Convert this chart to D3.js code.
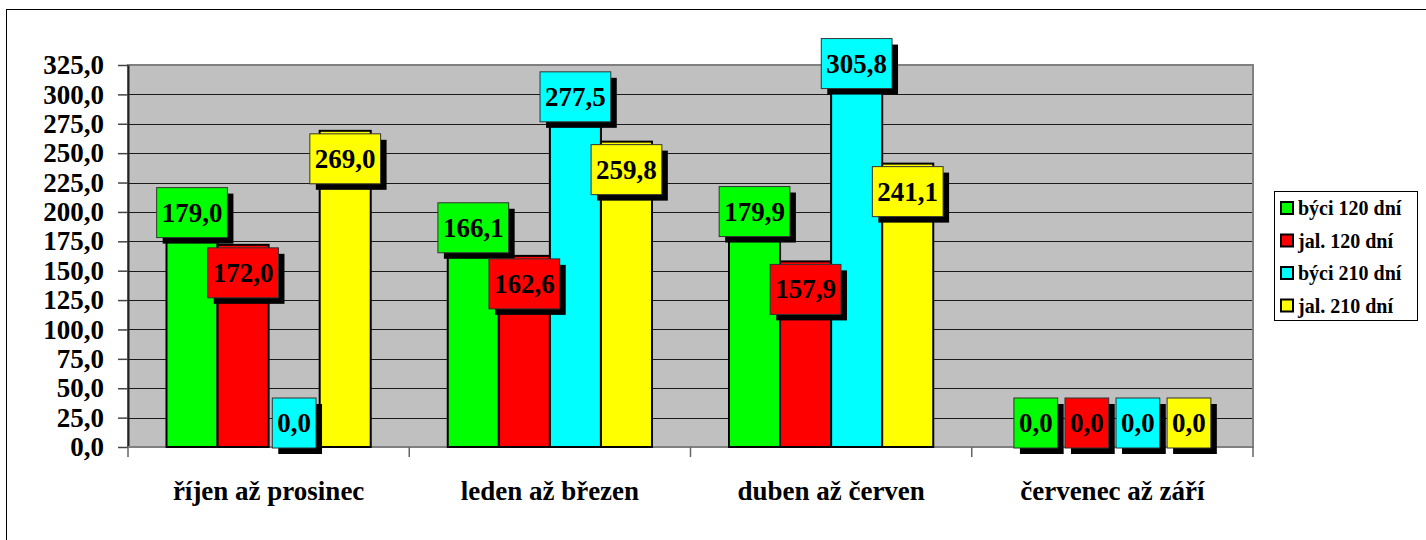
<!DOCTYPE html>
<html>
<head>
<meta charset="utf-8">
<script src="https://cdn.jsdelivr.net/npm/d3@7"></script>
<style>
  body { margin: 0; background: #fff; }
</style>
</head>
<body>
<svg id="chart" width="1426" height="540"></svg>
<script>
const categories = ["říjen až prosinec", "leden až březen", "duben až červen", "červenec až září"];
const seriesNames = ["býci 120 dní", "jal. 120 dní", "býci 210 dní", "jal. 210 dní"];
const seriesColors = ["#00ff00", "#ff0000", "#00ffff", "#ffff00"];
const bull120 = [179.0, 166.1, 179.9, 0.0];
const heifer120 = [172.0, 162.6, 157.9, 0.0];
const bull210 = [0.0, 277.5, 305.8, 0.0];
const heifer210 = [269.0, 259.8, 241.1, 0.0];
const yTicks = [0, 25, 50, 75, 100, 125, 150, 175, 200, 225, 250, 275, 300, 325];

const seriesValues = [bull120, heifer120, bull210, heifer210];
const FONT = "Liberation Serif";

const svg = d3.select("#chart");
const fmt = v => v.toFixed(1).replace(".", ",");
function serif(sel, size) {
    return sel.style("font-family", FONT).style("font-weight", "bold")
        .style("font-size", size + "px").attr("fill", "#000");
}

// outer chart border (runs off the right and bottom of the picture)
svg.append("rect")
    .attr("x", 6.5).attr("y", 9.5)
    .attr("width", 1440).attr("height", 560)
    .attr("fill", "#fff").attr("stroke", "#000").attr("stroke-width", 1);

const plot = {left: 128, right: 1253, top: 65, bottom: 447};

const y = d3.scaleLinear().domain([0, 325]).range([plot.bottom, plot.top]);
const x0 = d3.scaleBand().domain(categories)
    .range([plot.left, plot.right])
    .paddingInner(0.2738).paddingOuter(0.1369);
const x1 = d3.scaleBand().domain(d3.range(seriesNames.length))
    .range([0, x0.bandwidth()]);
const step = x0.step();

// plot area
svg.append("rect")
    .attr("x", plot.left).attr("y", plot.top)
    .attr("width", plot.right - plot.left).attr("height", plot.bottom - plot.top)
    .attr("fill", "#c0c0c0").attr("stroke", "#808080").attr("stroke-width", 2);

svg.append("g").selectAll("line")
    .data(yTicks.filter(t => t > 0 && t < 325))
    .join("line")
    .attr("x1", plot.left).attr("x2", plot.right - 1)
    .attr("y1", d => Math.round(y(d)) + 0.5).attr("y2", d => Math.round(y(d)) + 0.5)
    .attr("stroke", "#1a1a1a").attr("stroke-width", 1);

// y axis
const yAxis = svg.append("g")
    .attr("transform", `translate(${plot.left},0)`)
    .call(d3.axisLeft(y).tickValues(yTicks).tickFormat(fmt).tickSize(10).tickSizeOuter(0).tickPadding(14));
yAxis.select(".domain").attr("stroke", "#222").attr("stroke-width", 2);
yAxis.selectAll(".tick line").attr("stroke", "#444").attr("stroke-width", 1.5);
serif(yAxis.selectAll(".tick text"), 27);

// x axis line and category ticks
svg.append("line")
    .attr("x1", plot.left).attr("x2", plot.right)
    .attr("y1", plot.bottom).attr("y2", plot.bottom)
    .attr("stroke", "#808080").attr("stroke-width", 2);
svg.append("g").selectAll("line")
    .data(d3.range(categories.length + 1))
    .join("line")
    .attr("x1", i => plot.left + i * step).attr("x2", i => plot.left + i * step)
    .attr("y1", plot.bottom).attr("y2", plot.bottom + 10)
    .attr("stroke", "#666").attr("stroke-width", 1.5);

serif(svg.append("g").selectAll("text")
    .data(categories)
    .join("text")
    .attr("x", d => x0(d) + x0.bandwidth() / 2)
    .attr("y", 500)
    .attr("text-anchor", "middle")
    .text(d => d), 27);

// bars
const flat = [];
categories.forEach((c, ci) => {
    seriesValues.forEach((vals, si) => {
        flat.push({cat: c, ci: ci, si: si, value: vals[ci]});
    });
});

svg.append("g").selectAll("rect")
    .data(flat.filter(d => d.value > 0))
    .join("rect")
    .attr("x", d => x0(d.cat) + x1(d.si))
    .attr("y", d => y(d.value))
    .attr("width", x1.bandwidth())
    .attr("height", d => y(0) - y(d.value))
    .attr("fill", d => seriesColors[d.si])
    .attr("stroke", "#000").attr("stroke-width", 2);

// data labels: boxes with drop shadow, alternating above / below the bar top
const boxH = 50;
const labels = svg.append("g");
flat.forEach(d => {
    const cx = x0(d.cat) + x1(d.si) + x1.bandwidth() / 2;
    const top = y(d.value);
    const cy = (d.si % 2 === 1 && d.value > 0) ? top + 28 : top - 24;
    const g = labels.append("g");
    const shadow = g.append("rect").attr("fill", "#000");
    const box = g.append("rect")
        .attr("fill", seriesColors[d.si])
        .attr("stroke", "#333").attr("stroke-width", 1);
    const t = serif(g.append("text")
        .attr("x", cx).attr("y", cy + 9)
        .attr("text-anchor", "middle")
        .text(fmt(d.value)), 27);
    const w = t.node().getComputedTextLength() + 10;
    box.attr("x", cx - w / 2).attr("y", cy - boxH / 2).attr("width", w).attr("height", boxH);
    shadow.attr("x", cx - w / 2 + 6).attr("y", cy - boxH / 2 + 6).attr("width", w).attr("height", boxH);
});

// legend
const legend = svg.append("g").attr("transform", "translate(1274,191)");
legend.append("rect")
    .attr("x", 0.5).attr("y", 0.5).attr("width", 143).attr("height", 129)
    .attr("fill", "#fff").attr("stroke", "#000").attr("stroke-width", 1);
const items = legend.selectAll("g.item")
    .data(seriesNames)
    .join("g")
    .attr("class", "item")
    .attr("transform", (d, i) => `translate(0,${17 + i * 32.5})`);
items.append("rect")
    .attr("x", 7).attr("y", -6).attr("width", 12).attr("height", 12)
    .attr("fill", (d, i) => seriesColors[i])
    .attr("stroke", "#000").attr("stroke-width", 2);
serif(items.append("text")
    .attr("x", 24).attr("y", 7)
    .text(d => d), 20);
</script>
</body>
</html>
